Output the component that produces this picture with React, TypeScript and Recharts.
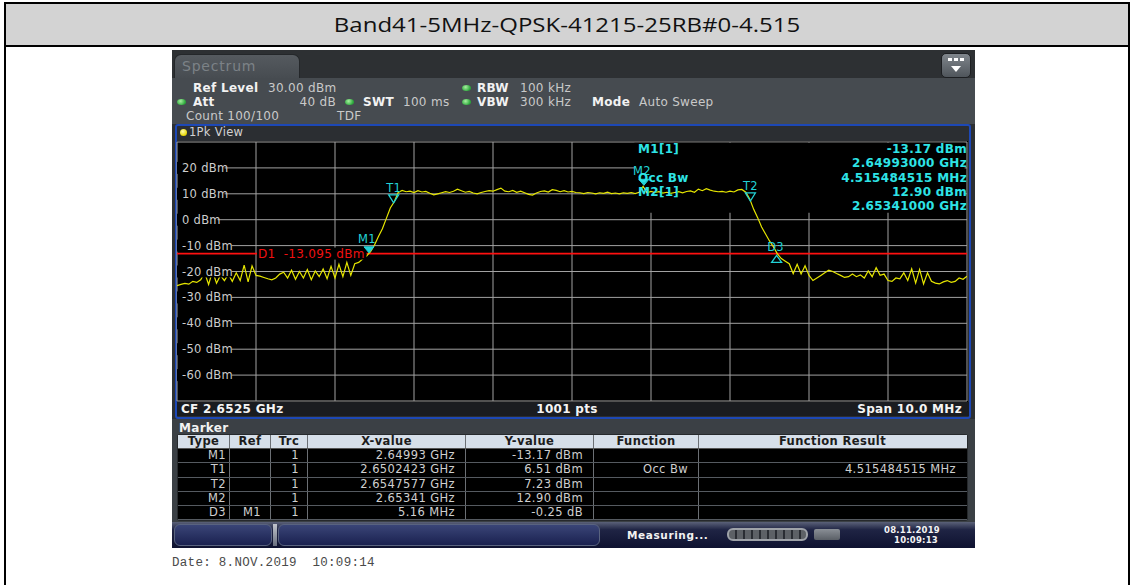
import React from 'react';
import {
  LineChart,
  Line,
  XAxis,
  YAxis,
  CartesianGrid,
  ReferenceLine,
  ReferenceDot,
  ReferenceArea,
} from 'recharts';

// ---------------- data ----------------
const TITLE = 'Band41-5MHz-QPSK-41215-25RB#0-4.515';
// frequency axis: offset from CF 2.6525 GHz, span 10 MHz
const SPAN_START_MHZ = -5;
const SPAN_STOP_MHZ = 5;
const TRACE_STEP_MHZ = 0.05;
const X_TICKS = [-5, -4, -3, -2, -1, 0, 1, 2, 3, 4, 5];
const Y_TICKS = [30, 20, 10, 0, -10, -20, -30, -40, -50, -60, -70];
const Y_LABEL_VALUES = [20, 10, 0, -10, -20, -30, -40, -50, -60];
const Y_LABEL_TEXT = ['20 dBm', '10 dBm', '0 dBm', '-10 dBm', '-20 dBm', '-30 dBm', '-40 dBm', '-50 dBm', '-60 dBm'];

// trace level (dBm), one value per 0.05 MHz step from -5 MHz to +5 MHz
const TRACE_DBM = [
  -25.5, -25.0, -24.6, -24.9, -23.8, -24.2, -23.2, -20.5, -25.0, -19.8,
  -24.5, -21.5, -23.5, -21.0, -23.8, -20.5, -23.5, -17.5, -24.0, -17.8,
  -21.5, -21.8, -22.3, -22.8, -23.2, -22.5, -21.0, -20.3, -22.5, -19.5,
  -23.0, -20.0, -22.5, -19.2, -23.2, -19.8, -22.0, -19.0, -22.8, -18.0,
  -22.5, -17.2, -22.0, -16.5, -21.5, -17.0, -16.5, -15.2, -14.0, -12.3,
  -9.8, -6.5, -3.5, 0.5, 4.5, 6.9, 10.5,
  11.3, 10.8, 11.0, 10.5, 11.2, 10.7, 10.9, 10.2, 9.6, 10.0,
  10.4, 10.8, 10.5, 11.0, 11.8, 11.2, 10.6, 10.9, 10.3, 10.0,
  10.5, 10.9, 11.2, 11.0, 11.6, 12.2, 11.0, 10.8, 11.3, 10.6,
  11.0, 10.4, 9.8, 9.5, 10.3, 10.9, 11.1, 10.7, 11.6, 11.3,
  10.8, 11.2, 10.7, 10.9, 10.5, 10.4, 10.1, 10.5, 10.3, 10.0,
  10.4, 10.2, 10.6, 10.1, 10.3, 10.0, 10.4, 10.2, 10.5, 10.1,
  10.6, 12.9, 10.4, 10.9, 10.5, 10.8, 10.3, 10.6, 10.2, 10.5,
  10.8, 10.4, 10.9, 11.1, 10.6, 11.8, 11.2, 12.0, 11.4, 11.0,
  10.8, 10.9, 10.6, 11.0, 10.7, 11.5, 11.7, 10.6,
  8.0, 4.0, 0.8, -2.8, -5.5, -8.2, -10.5, -13.2, -15.0, -16.0,
  -17.0, -20.8, -17.2, -21.0, -17.8, -21.5, -23.5, -22.5, -21.5, -20.5,
  -19.5, -20.0, -20.8, -21.5, -22.3, -22.0, -21.0, -22.0, -21.3, -22.5,
  -19.8, -22.0, -18.5, -21.5, -21.0, -23.5, -23.8, -22.5, -22.8, -20.5,
  -23.5, -19.0, -24.5, -19.2, -24.8, -20.5, -23.8, -24.5, -24.8, -24.0,
  -23.5, -24.2, -23.8, -22.5, -23.0, -21.8,
];

// markers (frequency offset in MHz from CF)
const MARKER_IDS = ['M1', 'T1', 'T2', 'M2', 'D3'];
const MARKER_FREQ = [-2.57, -2.2577, 2.2577, 0.91, 2.59];
const MARKER_DBM = [-13.17, 6.51, 7.23, 12.9, -13.42];
const MARKER_KIND = ['filled', 'open', 'open', 'filled', 'delta'];

const D1_DBM = -13.095;
const D1_LABEL = 'D1  -13.095 dBm';
const D1_LABEL_FREQ = -4;

// marker info box (top right of diagram)
const INFO_LEFT_LINES = ['M1[1]', '', 'Occ Bw', 'M2[1]', ''];
const INFO_RIGHT_LINES = ['-13.17 dBm', '2.64993000 GHz', '4.515484515 MHz', '12.90 dBm', '2.65341000 GHz'];

// marker table
const TABLE_COLUMNS = ['Type', 'Ref', 'Trc', 'X-value', 'Y-value', 'Function', 'Function Result'];
const TABLE_TYPE = ['M1', 'T1', 'T2', 'M2', 'D3'];
const TABLE_REF = ['', '', '', '', 'M1'];
const TABLE_TRC = ['1', '1', '1', '1', '1'];
const TABLE_X = ['2.64993 GHz', '2.6502423 GHz', '2.6547577 GHz', '2.65341 GHz', '5.16 MHz'];
const TABLE_Y = ['-13.17 dBm', '6.51 dBm', '7.23 dBm', '12.90 dBm', '-0.25 dB'];
const TABLE_FN = ['', 'Occ Bw', '', '', ''];
const TABLE_FN_RESULT = ['', '4.515484515 MHz', '', '', ''];

// ---------------- layout / style ----------------
const FONT = '"DejaVu Sans", Verdana, sans-serif';
const CYAN = '#22d2d6';
const CYAN_TXT = '#2ee3e6';
const TRACE = '#e6e600';
const COL_W = [51, 41, 37, 158, 128, 105, 268];
const COL_PAD = [3, 9, 8, 10, 10, 10, 10];

const traceData = TRACE_DBM.map((v, i) => ({
  f: +(SPAN_START_MHZ + i * TRACE_STEP_MHZ).toFixed(2),
  dbm: v,
}));

type TxtProps = {
  x: number;
  y: number;
  children: React.ReactNode;
  bold?: boolean;
  color?: string;
  size?: number;
  align?: 'left' | 'right' | 'center';
  ls?: number;
  family?: string;
};

const Txt = ({ x, y, children, bold, color = '#c9c9c9', size = 12, align = 'left', ls = 0.3, family = FONT }: TxtProps) => {
  const style: React.CSSProperties = {
    position: 'absolute',
    top: y - 8,
    height: 16,
    lineHeight: '16px',
    fontSize: size,
    fontFamily: family,
    fontWeight: bold ? 'bold' : 'normal',
    color,
    whiteSpace: 'pre',
    letterSpacing: ls,
  };
  if (align === 'left') style.left = x;
  if (align === 'right') {
    style.left = x - 500;
    style.width = 500;
    style.textAlign = 'right';
  }
  if (align === 'center') {
    style.left = x - 250;
    style.width = 500;
    style.textAlign = 'center';
  }
  return <div style={style}>{children}</div>;
};

const Box = ({ x, y, w, h, style }: { x: number; y: number; w: number; h: number; style?: React.CSSProperties }) => (
  <div style={{ position: 'absolute', left: x, top: y, width: w, height: h, ...style }} />
);

const GreenDot = ({ x, y }: { x: number; y: number }) => (
  <div
    style={{
      position: 'absolute',
      left: x - 4.5,
      top: y - 3,
      width: 9,
      height: 6,
      borderRadius: '50%',
      background: 'radial-gradient(circle at 40% 35%, #a8f0a0, #2aa83a 70%)',
    }}
  />
);

const EmptyTick = () => <g />;

const yLabelShape = (label: string) => (props: any) => {
  const { cx, cy } = props;
  if (cx == null || cy == null) return <g />;
  const w = 5 + label.length * 7.1;
  return (
    <g>
      <rect x={cx} y={cy - 6} width={w} height={12} fill="#000" />
      <text x={cx + 5} y={cy + 4} fill="#cdcdcd" fontSize={11.5} fontFamily={FONT} letterSpacing={0.3}>
        {label}
      </text>
    </g>
  );
};

const markerShape = (id: string, kind: string) => (props: any) => {
  const { cx, cy } = props;
  if (cx == null || cy == null) return <g />;
  const labelStyle = { fill: CYAN, fontSize: 11.5, fontFamily: FONT, letterSpacing: 0.3 } as any;
  if (kind === 'filled') {
    return (
      <g>
        <polygon points={`${cx - 5},${cy - 7} ${cx + 5},${cy - 7} ${cx},${cy - 1}`} fill={CYAN} stroke={CYAN} />
        <text x={cx - 2} y={cy - 11} textAnchor="middle" {...labelStyle}>
          {id}
        </text>
      </g>
    );
  }
  if (kind === 'open') {
    return (
      <g>
        <polygon points={`${cx - 5},${cy - 8} ${cx + 5},${cy - 8} ${cx},${cy}`} fill="none" stroke={CYAN} strokeWidth={1.3} />
        <text x={cx} y={cy - 11} textAnchor="middle" {...labelStyle}>
          {id}
        </text>
      </g>
    );
  }
  return (
    <g>
      <polygon points={`${cx},${cy + 1} ${cx - 5},${cy + 8} ${cx + 5},${cy + 8}`} fill="none" stroke={CYAN} strokeWidth={1.3} />
      <text x={cx - 1} y={cy - 3} textAnchor="middle" {...labelStyle}>
        {id}
      </text>
    </g>
  );
};

const d1LabelShape = (props: any) => {
  const { cx, cy } = props;
  if (cx == null || cy == null) return <g />;
  const w = D1_LABEL.length * 7.3;
  return (
    <g>
      <rect x={cx + 1} y={cy - 6} width={w} height={12} fill="#000" />
      <text x={cx + 2} y={cy + 4} fill="#f01010" fontSize={12} fontFamily={FONT} letterSpacing={0.3} style={{ whiteSpace: 'pre' }}>
        {D1_LABEL}
      </text>
    </g>
  );
};

const Plot = () => (
  <LineChart width={790} height={259} data={traceData} margin={{ top: 0, right: 0, bottom: 0, left: 0 }}>
    <CartesianGrid stroke="#a2a2a2" strokeWidth={1} />
    <XAxis type="number" dataKey="f" domain={[SPAN_START_MHZ, SPAN_STOP_MHZ]} ticks={X_TICKS} hide allowDataOverflow />
    <YAxis
      type="number"
      domain={[-70, 30]}
      ticks={Y_TICKS}
      interval={0}
      width={0}
      mirror
      axisLine={false}
      tickLine={false}
      tick={EmptyTick}
      allowDataOverflow
    />
    <ReferenceArea x1={0.79} x2={4.97} y1={2.7} y2={29.7} fill="#000" fillOpacity={1} stroke="none" ifOverflow="visible" />
    {Y_LABEL_VALUES.map((v, i) => (
      <ReferenceDot key={'yl' + v} x={SPAN_START_MHZ} y={v} r={0} shape={yLabelShape(Y_LABEL_TEXT[i])} ifOverflow="visible" />
    ))}
    <ReferenceLine y={D1_DBM} stroke="#ff1010" strokeWidth={1.8} />
    <ReferenceDot x={D1_LABEL_FREQ} y={D1_DBM} r={0} shape={d1LabelShape} ifOverflow="visible" />
    <Line type="linear" dataKey="dbm" stroke={TRACE} strokeWidth={1.2} dot={false} isAnimationActive={false} />
    {MARKER_IDS.map((id, i) => (
      <ReferenceDot
        key={id}
        x={MARKER_FREQ[i]}
        y={MARKER_DBM[i]}
        r={0}
        shape={markerShape(id, MARKER_KIND[i])}
        ifOverflow="visible"
      />
    ))}
  </LineChart>
);

const tableRows = TABLE_TYPE.map((t, i) => [t, TABLE_REF[i], TABLE_TRC[i], TABLE_X[i], TABLE_Y[i], TABLE_FN[i], TABLE_FN_RESULT[i]]);

const MarkerTable = () => (
  <div style={{ position: 'absolute', left: 178, top: 435, width: 789, fontFamily: FONT }}>
    <div style={{ display: 'flex', height: 13, background: '#d6dfe9', borderBottom: '1px solid #555' }}>
      {TABLE_COLUMNS.map((c, j) => (
        <div
          key={c}
          style={{
            width: COL_W[j],
            boxSizing: 'border-box',
            borderLeft: j === 0 ? 'none' : '1px solid #6b6f74',
            textAlign: 'center',
            fontWeight: 'bold',
            fontSize: 11.5,
            lineHeight: '13px',
            color: '#1c1c1c',
            letterSpacing: 0.4,
          }}
        >
          {c}
        </div>
      ))}
    </div>
    {tableRows.map((row, r) => (
      <div key={r} style={{ display: 'flex', height: 14.3, background: '#000', borderBottom: '1px solid #555a60', boxSizing: 'border-box' }}>
        {row.map((cell, j) => (
          <div
            key={j}
            style={{
              width: COL_W[j],
              boxSizing: 'border-box',
              borderLeft: j === 0 ? 'none' : '1px solid #6b6f74',
              textAlign: 'right',
              paddingRight: COL_PAD[j],
              fontSize: 11.5,
              lineHeight: '13.3px',
              color: '#cfcfcf',
              letterSpacing: 0.4,
              whiteSpace: 'nowrap',
            }}
          >
            {cell}
          </div>
        ))}
      </div>
    ))}
  </div>
);

export default function App() {
  return (
    <div style={{ position: 'relative', width: 1134, height: 585, background: '#fff', overflow: 'hidden', fontFamily: FONT }}>
      <style>{`body{margin:0} .plot svg{overflow:visible}`}</style>

      {/* page frame + title */}
      <Box x={6} y={4} w={1122} h={41} style={{ background: '#d3d3d3' }} />
      <div
        style={{
          position: 'absolute',
          left: 6,
          top: 4,
          width: 1122,
          height: 41,
          lineHeight: '41px',
          textAlign: 'center',
          fontFamily: '"Open Sans", "Liberation Sans", sans-serif',
          fontSize: 20,
          color: '#111',
          transform: 'scaleX(1.2)',
          transformOrigin: '561px 50%',
        }}
      >
        {TITLE}
      </div>
      <Box x={4} y={2} w={1126} h={2} style={{ background: '#000' }} />
      <Box x={4} y={45} w={1126} h={2} style={{ background: '#000' }} />
      <Box x={4} y={2} w={2} h={583} style={{ background: '#000' }} />
      <Box x={1128} y={2} w={2} h={583} style={{ background: '#000' }} />

      {/* instrument screen */}
      <Box x={172} y={50} w={803} h={498} style={{ background: '#2d3033' }} />
      {/* tab */}
      <div
        style={{
          position: 'absolute',
          left: 174,
          top: 54,
          width: 126,
          height: 24,
          background: 'linear-gradient(#555a5f, #474c51)',
          borderRadius: '7px 7px 0 0',
          border: '1px solid #24272a',
          borderBottom: 'none',
          boxSizing: 'border-box',
        }}
      />
      <Txt x={182} y={66} size={14} color="#7c8287" ls={0.8}>
        Spectrum
      </Txt>
      {/* top right button */}
      <div
        style={{
          position: 'absolute',
          left: 941,
          top: 53,
          width: 30,
          height: 25,
          borderRadius: 5,
          background: 'linear-gradient(#80868c, #4f555b)',
          border: '1px solid #1d1f22',
          boxSizing: 'border-box',
        }}
      />
      <Box x={948} y={58} w={4} h={3} style={{ background: '#fff' }} />
      <Box x={954} y={58} w={4} h={3} style={{ background: '#fff' }} />
      <Box x={960} y={58} w={4} h={3} style={{ background: '#fff' }} />
      <div
        style={{
          position: 'absolute',
          left: 951,
          top: 66,
          width: 0,
          height: 0,
          borderLeft: '5px solid transparent',
          borderRight: '5px solid transparent',
          borderTop: '6px solid #fff',
        }}
      />

      {/* settings panel */}
      <Box x={172} y={78} w={803} h={46} style={{ background: '#464b50' }} />
      <Txt x={193} y={88} bold color="#f2f2f2">Ref Level</Txt>
      <Txt x={268} y={88}>30.00 dBm</Txt>
      <GreenDot x={466} y={88} />
      <Txt x={477} y={88} bold color="#f2f2f2">RBW</Txt>
      <Txt x={520} y={88}>100 kHz</Txt>

      <GreenDot x={181} y={102} />
      <Txt x={193} y={102} bold color="#f2f2f2">Att</Txt>
      <Txt x={336} y={102} align="right">40 dB</Txt>
      <GreenDot x={349} y={102} />
      <Txt x={363} y={102} bold color="#f2f2f2">SWT</Txt>
      <Txt x={403} y={102}>100 ms</Txt>
      <GreenDot x={466} y={102} />
      <Txt x={477} y={102} bold color="#f2f2f2">VBW</Txt>
      <Txt x={520} y={102}>300 kHz</Txt>
      <Txt x={592} y={102} bold color="#f2f2f2">Mode</Txt>
      <Txt x={639} y={102}>Auto Sweep</Txt>

      <Txt x={186} y={116}>Count 100/100</Txt>
      <Txt x={337} y={116}>TDF</Txt>

      {/* diagram window */}
      <div
        style={{
          position: 'absolute',
          left: 175,
          top: 124,
          width: 796,
          height: 295,
          border: '2px solid #1d48b6',
          borderRadius: 3,
          boxSizing: 'border-box',
          background: '#2b2e32',
        }}
      />
      <div
        style={{
          position: 'absolute',
          left: 180,
          top: 129,
          width: 7,
          height: 7,
          borderRadius: '50%',
          background: 'radial-gradient(circle at 40% 35%, #fffcb0, #e8d800 70%)',
        }}
      />
      <Txt x={189} y={132} size={11.5} color="#d2d2d2">1Pk View</Txt>
      <Box x={177} y={141} w={791} h={261} style={{ background: '#000' }} />
      <Box x={177} y={402} w={792} h={14} style={{ background: '#1a1c20' }} />
      <Txt x={181} y={409} bold color="#f4f4f4">CF 2.6525 GHz</Txt>
      <Txt x={567} y={409} bold color="#f4f4f4" align="center">1001 pts</Txt>
      <Txt x={962} y={409} bold color="#f4f4f4" align="right">Span 10.0 MHz</Txt>

      {/* plot */}
      <div className="plot" style={{ position: 'absolute', left: 177, top: 142, width: 790, height: 259 }}>
        <Plot />
      </div>

      {/* marker info box text */}
      {INFO_LEFT_LINES.map((t, i) =>
        t ? (
          <Txt key={'l' + i} x={638} y={149 + i * 14.3} bold color={CYAN_TXT} size={12}>
            {t}
          </Txt>
        ) : null
      )}
      {INFO_RIGHT_LINES.map((t, i) => (
        <Txt key={'r' + i} x={967} y={149 + i * 14.3} bold color={CYAN_TXT} size={12} align="right">
          {t}
        </Txt>
      ))}

      {/* marker panel */}
      <Box x={172} y={419} w={803} h={103} style={{ background: '#3b4045' }} />
      <Txt x={179} y={428} bold color="#f2f2f2">Marker</Txt>
      <Box x={177} y={434} w={791} h={87} style={{ background: '#26292c', borderRadius: 3 }} />
      <MarkerTable />

      {/* status bar */}
      <Box
        x={172}
        y={522}
        w={803}
        h={26}
        style={{ background: 'linear-gradient(180deg, #5a6178 0%, #1f2444 30%, #0e1230 100%)' }}
      />
      <Box
        x={174}
        y={524}
        w={98}
        h={22}
        style={{ borderRadius: 6, background: 'linear-gradient(#3a4577, #1a2150)', border: '1px solid #59637f', boxSizing: 'border-box' }}
      />
      <Box x={273} y={524} w={4} h={22} style={{ background: 'linear-gradient(#c0c4cc, #6a7080)' }} />
      <Box
        x={278}
        y={524}
        w={322}
        h={22}
        style={{ borderRadius: 6, background: 'linear-gradient(#3a4577, #1a2150)', border: '1px solid #59637f', boxSizing: 'border-box' }}
      />
      <Txt x={627} y={535} bold color="#f2f2f2" size={10.5} ls={0.6}>Measuring...</Txt>
      <Box
        x={727}
        y={528}
        w={81}
        h={13}
        style={{
          borderRadius: 6,
          border: '2px solid #9ea2a8',
          boxSizing: 'border-box',
          background: 'repeating-linear-gradient(90deg, #5d6166 0px, #5d6166 6px, #2a2d33 6px, #2a2d33 8px)',
        }}
      />
      <Box x={814} y={529} w={26} h={11} style={{ background: 'linear-gradient(#8a8f96, #5a5f66)', borderRadius: 2 }} />
      <Txt x={912} y={530} bold color="#f4f4f4" size={8.5} align="center" ls={0.2}>08.11.2019</Txt>
      <Txt x={916} y={540} bold color="#f4f4f4" size={8.5} align="center" ls={0.2}>10:09:13</Txt>

      {/* date line */}
      <Txt x={172} y={563} color="#4a4a4a" size={12.5} family={'"Liberation Mono", "DejaVu Sans Mono", monospace'} ls={0.3}>
        {'Date: 8.NOV.2019  10:09:14'}
      </Txt>
    </div>
  );
}
